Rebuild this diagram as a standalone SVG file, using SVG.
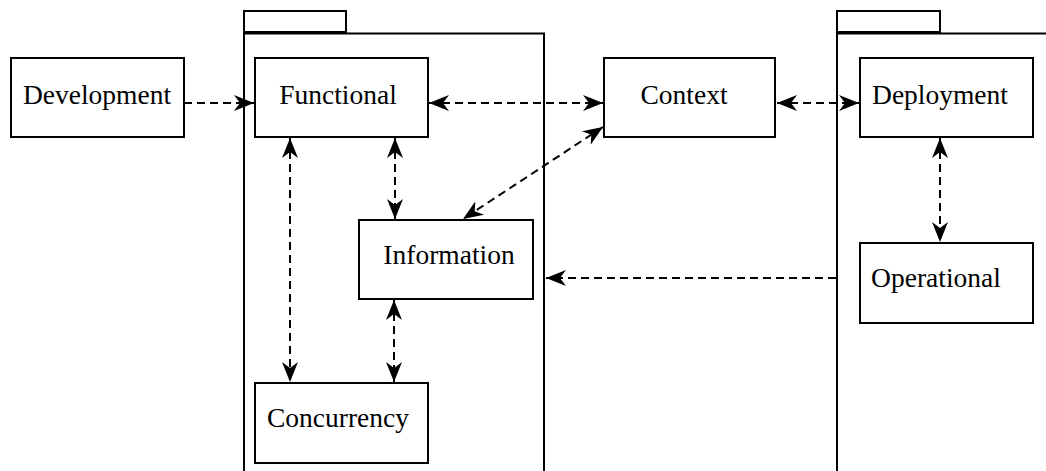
<svg xmlns="http://www.w3.org/2000/svg" width="1046" height="471" viewBox="0 0 1046 471">
<style>
.box{fill:#fff;stroke:#000;stroke-width:2}
.frame{fill:none;stroke:#000;stroke-width:2}
.lbl{font-family:"Liberation Serif","Times New Roman",serif;font-size:27.5px;fill:#000;text-anchor:middle}
.c{fill:none;stroke:#000;stroke-width:2;stroke-dasharray:8 5}
.one{marker-end:url(#ah)}
.two{marker-start:url(#ah);marker-end:url(#ah)}
</style>
<defs>
<marker id="ah" markerUnits="userSpaceOnUse" markerWidth="22" markerHeight="18" refX="20" refY="9" orient="auto-start-reverse" viewBox="0 0 22 18">
<path d="M0,1 L20,9 L0,17 L6,9 z" fill="#000"/>
</marker>
</defs>
<g id="package-left">
<rect class="frame" x="244" y="11" width="102" height="21"/>
<path class="frame" d="M244,471 V33.5 H544 V471"/>
</g>
<g id="package-right">
<rect class="frame" x="837" y="11" width="103" height="21"/>
<path class="frame" d="M837,471 V33.5 H1046"/>
</g>
<g id="connectors">
<line class="c one" x1="184" y1="103" x2="254" y2="103"/>
<line class="c two" x1="429" y1="103" x2="603" y2="103"/>
<line class="c two" x1="777" y1="103" x2="859" y2="103"/>
<line class="c two" x1="603" y1="127" x2="463" y2="219"/>
<line class="c two" x1="395" y1="138" x2="395" y2="219"/>
<line class="c two" x1="290" y1="138" x2="290" y2="382"/>
<line class="c two" x1="394" y1="300" x2="394" y2="382"/>
<line class="c two" x1="940" y1="138" x2="940" y2="242"/>
<line class="c one" x1="836" y1="278" x2="546" y2="278"/>
</g>
<g id="development">
<rect class="box" x="11" y="58" width="173" height="79"/>
<text class="lbl" x="97" y="104">Development</text>
</g>
<g id="functional">
<rect class="box" x="255" y="58" width="173" height="79"/>
<text class="lbl" x="338" y="104">Functional</text>
</g>
<g id="context">
<rect class="box" x="604" y="58" width="171" height="79"/>
<text class="lbl" x="684" y="104">Context</text>
</g>
<g id="deployment">
<rect class="box" x="860" y="58" width="173" height="79"/>
<text class="lbl" x="940" y="104">Deployment</text>
</g>
<g id="information">
<rect class="box" x="359" y="220" width="174" height="79"/>
<text class="lbl" x="449" y="264">Information</text>
</g>
<g id="operational">
<rect class="box" x="860" y="243" width="173" height="80"/>
<text class="lbl" x="936" y="287">Operational</text>
</g>
<g id="concurrency">
<rect class="box" x="255" y="383" width="173" height="80"/>
<text class="lbl" x="338" y="427">Concurrency</text>
</g>
</svg>
